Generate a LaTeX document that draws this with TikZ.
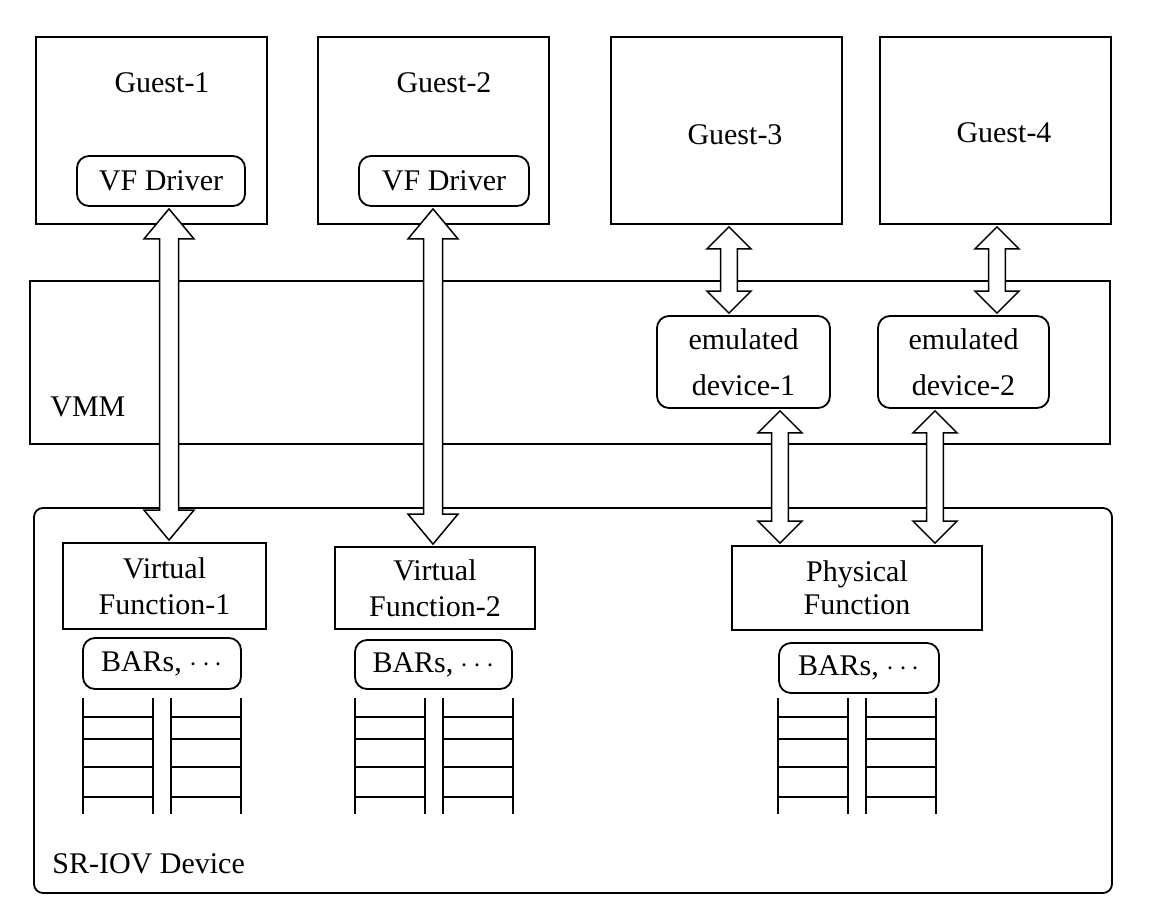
\documentclass[tikz,border=0pt]{standalone}
\usepackage{fontspec}
\setmainfont{Liberation Serif}
\usetikzlibrary{calc,fit}

% hollow two-headed arrow: x (px), from, to, head half-width, head length
\newcommand{\fatarrow}[5]{%
  \path let \p1=(#1,0), \p2=(#2), \p3=(#3) in [fat]
    (\x1,{\y2-1pt}) -- ({\x1+#4},{\y2-1pt-#5}) -- ({\x1+0.38*#4},{\y2-1pt-#5})
    -- ({\x1+0.38*#4},{\y3+1pt+#5}) -- ({\x1+#4},{\y3+1pt+#5}) -- (\x1,{\y3+1pt})
    -- ({\x1-#4},{\y3+1pt+#5}) -- ({\x1-0.38*#4},{\y3+1pt+#5})
    -- ({\x1-0.38*#4},{\y2-1pt-#5}) -- ({\x1-#4},{\y2-1pt-#5}) -- cycle;}

\begin{document}
\begin{tikzpicture}[x=0.5pt,y=-0.5pt,
  every node/.style={font=\fontsize{15}{18}\selectfont},
  box/.style={draw,line width=0.9pt,inner sep=0pt},
  rbox/.style={box,rounded corners=6pt},
  lbl/.style={inner sep=0pt,anchor=base},
  btxt/.style={inner sep=0pt,align=center},
  fat/.style={draw,fill=white,line width=0.75pt},
  rail/.style={line width=0.9pt}]
  \useasboundingbox (0,0) rectangle (1152,906);

% guests
  \node[box,fit={(36,37) (267,224)}]   (g1) {};
  \node[box,fit={(318,37) (549,224)}]  (g2) {};
  \node[box,fit={(611,37) (842,224)}]  (g3) {};
  \node[box,fit={(880,37) (1111,224)}] (g4) {};
  \node[lbl] (g1t) at (162,92)   {Guest-1};
  \node[lbl] (g2t) at (444,92)   {Guest-2};
  \node[lbl] (g3t) at (735,144)  {Guest-3};
  \node[lbl] (g4t) at (1004,142) {Guest-4};
  \node[rbox,fit={(77,156) (245,206)}]  (vfd1) {};
  \node[rbox,fit={(359,156) (529,206)}] (vfd2) {};
  \node[btxt] (vfd1t) at (vfd1) {VF Driver};
  \node[btxt] (vfd2t) at (vfd2) {VF Driver};

% VMM
  \node[box,fit={(30,281) (1110,444)}] (vmm) {};
  \node[lbl,anchor=base west] (vmmt) at (50,416) {VMM};
  \node[rbox,fit={(657,316) (830,408)}]  (emu1) {};
  \node[rbox,fit={(878,316) (1049,408)}] (emu2) {};
  \node[btxt] (emu1t) at (emu1) {emulated\\[5pt]device-1};
  \node[btxt] (emu2t) at (emu2) {emulated\\[5pt]device-2};

% device
  \node[box,rounded corners=4.5pt,fit={(34,508) (1112,893)}] (sriov) {};
  \node[lbl,anchor=base west] (sriovt) at (52,873) {SR-IOV Device};
  \node[box,fit={(63,543) (266,629)}]  (vf1) {};
  \node[box,fit={(335,547) (535,629)}] (vf2) {};
  \node[box,fit={(732,546) (982,630)}] (pf)  {};
  \node[btxt] (vf1t) at (vf1) {Virtual\\Function-1};
  \node[btxt] (vf2t) at (vf2) {Virtual\\Function-2};
  \node[btxt] (pft)  at (pf)  {Physical\\[-1.5pt]Function};
  \node[rbox,fit={(83,638) (241,689)}]  (bar1) {};
  \node[rbox,fit={(355,640) (512,689)}] (bar2) {};
  \node[rbox,fit={(779,643) (939,693)}] (bar3) {};
  \foreach \b in {bar1,bar2,bar3}
    \node[btxt] (\b t) at (\b) {BARs, $\cdots$};

% queues under the BARs
  \foreach \q in {83,355,778}{
    \foreach \r in {0,70,88,158} \draw[rail] (\q+\r,698) -- (\q+\r,814);
    \foreach \s in {717,739,767,797}{
      \draw[rail] (\q,\s) -- (\q+70,\s);
      \draw[rail] (\q+88,\s) -- (\q+158,\s);}}

% arrows
  \fatarrow{169}{vfd1.south}{vf1.north}{12.5pt}{15pt}
  \fatarrow{433}{vfd2.south}{vf2.north}{12.5pt}{15pt}
  \fatarrow{729}{g3.south}{emu1.north}{11pt}{11pt}
  \fatarrow{997}{g4.south}{emu2.north}{11pt}{11pt}
  \fatarrow{780}{emu1.south}{pf.north}{11pt}{11pt}
  \fatarrow{935}{emu2.south}{pf.north}{11pt}{11pt}
\end{tikzpicture}
\end{document}
